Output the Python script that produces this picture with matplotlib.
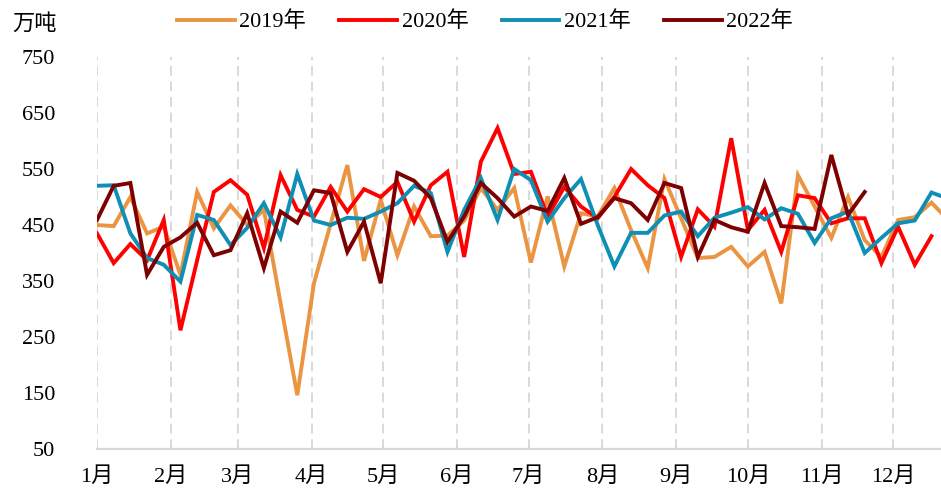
import matplotlib
matplotlib.use("Agg")
import matplotlib.pyplot as plt
import numpy as np

plt.rcParams['font.family'] = ['Liberation Serif', 'Noto Sans CJK SC']

# weekly values (万吨), week i -> day 7*i of the year
y2019 = [450, 448, 500, 435, 447, 361, 509, 444, 485, 450, 477, 310, 146, 346, 452, 557,
         386, 495, 396, 483, 430, 431, 458, 516, 477, 516, 383, 501, 376, 471, 465, 516,
         441, 373, 532, 462, 391, 393, 411, 376, 402, 310, 539, 483, 427, 500, 423, 393,
         459, 464, 490, 459]
y2020 = [435, 382, 416, 387, 459, 262, 387, 509, 530, 504, 409, 539, 477, 465, 518, 474,
         514, 500, 527, 456, 521, 545, 393, 563, 623, 541, 545, 465, 518, 483, 462, 500,
         550, 521, 498, 393, 478, 447, 605, 441, 477, 402, 503, 498, 453, 462, 462, 382,
         447, 379, 430]
y2021 = [520, 521, 435, 391, 379, 349, 468, 459, 414, 445, 489, 428, 541, 458, 450, 463,
         461, 474, 489, 520, 507, 402, 477, 534, 459, 550, 530, 456, 498, 532, 450, 376,
         436, 436, 467, 474, 430, 463, 472, 482, 460, 480, 470, 418, 462, 474, 400, 427,
         453, 458, 508, 497]
y2022 = [459, 520, 525, 361, 411, 428, 454, 396, 405, 471, 373, 474, 454, 512, 507, 402,
         456, 346, 543, 529, 498, 420, 465, 525, 498, 465, 483, 475, 534, 452, 464, 498,
         489, 459, 525, 516, 393, 459, 446, 438, 525, 448, 446, 443, 575, 468, 509]

series = [("2019年", y2019, "#EB9441"),
          ("2020年", y2020, "#FF0000"),
          ("2021年", y2021, "#0E8FB3"),
          ("2022年", y2022, "#7F0000")]

month_start = [0, 31, 59, 90, 120, 151, 181, 212, 243, 273, 304, 334]
month_labels = ["%d月" % m for m in range(1, 13)]

fig = plt.figure(figsize=(9.41, 4.92), dpi=100)
ax = fig.add_axes([97 / 941, 1 - 449 / 492, 1 - 97 / 941, 392 / 492])

for name, vals, col in series:
    x = np.arange(len(vals)) * 7
    ax.plot(x, vals, color=col, lw=2.8, label=name, solid_joinstyle="miter")

ax.set_xlim(0, 354)
ax.set_ylim(50, 750)
ax.set_yticks(range(50, 751, 100))
ax.set_xticks(month_start)
ax.set_xticklabels(month_labels)
ax.tick_params(axis="both", length=0, labelsize=16, colors="#000000")
ax.tick_params(axis="y", pad=30)
ax.tick_params(axis="x", pad=13)

ax.grid(axis="x", color="#D9D9D9", linestyle=(0, (5, 3)), linewidth=1.4)
ax.set_axisbelow(True)
for s in ["top", "right", "left"]:
    ax.spines[s].set_visible(False)
ax.spines["bottom"].set_color("#D9D9D9")
ax.spines["bottom"].set_linewidth(1.6)

fig.text(12 / 941, 1 - 24 / 492, "万吨", fontsize=16, va="center", ha="left")
fig.legend(loc="center", bbox_to_anchor=(485 / 941, 1 - 22 / 492), ncol=4, frameon=False,
           fontsize=16, handlelength=2.6, handletextpad=0.2, columnspacing=1.5)

fig.savefig("out.png", dpi=100)
